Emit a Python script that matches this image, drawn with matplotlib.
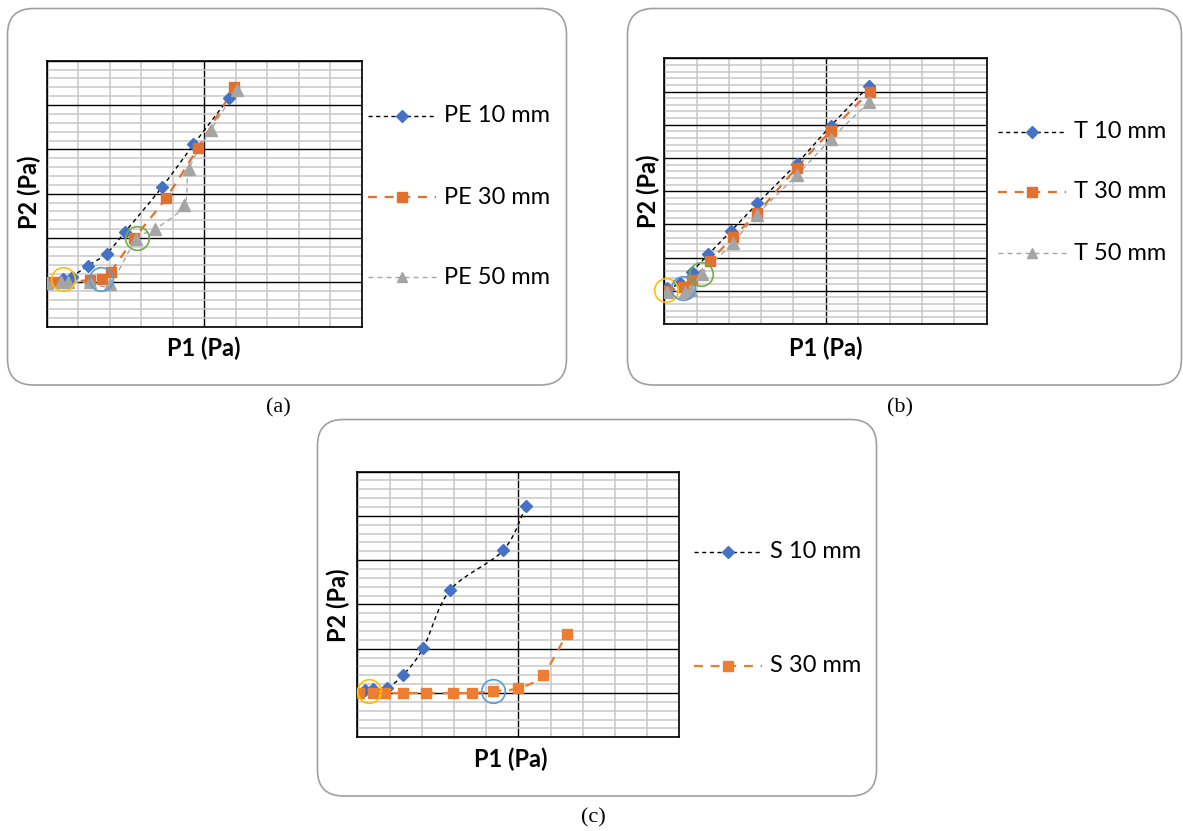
import numpy as np
import matplotlib.pyplot as plt
from matplotlib.patches import FancyBboxPatch
from matplotlib.lines import Line2D

# ---------------------------------------------------------------------------
# Daten (Achsen ohne Zahlen -> relative Einheiten)
# ---------------------------------------------------------------------------
pe10_x = [0.53, 0.79, 1.32, 1.90, 2.49, 3.65, 4.66, 5.79]
pe10_y = [0.07, 0.13, 0.38, 0.65, 1.14, 2.14, 3.11, 4.16]
pe30_x = [0.02, 0.32, 1.38, 1.75, 2.03, 2.78, 3.79, 4.81, 5.96]
pe30_y = [0.00, 0.00, 0.05, 0.08, 0.24, 0.99, 1.91, 3.04, 4.40]
pe50_x = [0.00, 0.44, 0.69, 1.38, 2.01, 2.84, 3.44, 4.36, 4.52, 5.21, 6.03]
pe50_y = [-0.02, 0.00, 0.00, 0.00, -0.03, 0.97, 1.20, 1.74, 2.56, 3.44, 4.34]

t10_x = [0.07, 0.49, 0.85, 1.37, 2.07, 2.89, 4.11, 5.16, 6.36]
t10_y = [0.07, 0.22, 0.57, 1.10, 1.80, 2.63, 3.83, 4.96, 6.18]
t30_x = [0.07, 0.59, 0.85, 1.42, 2.12, 2.89, 4.11, 5.16, 6.38]
t30_y = [0.00, 0.10, 0.32, 0.90, 1.61, 2.35, 3.71, 4.81, 6.00]
t50_x = [0.07, 0.64, 0.82, 1.16, 2.12, 2.86, 4.11, 5.16, 6.36]
t50_y = [-0.03, -0.03, 0.02, 0.52, 1.43, 2.28, 3.48, 4.56, 5.69]

s10_x = [0.24, 0.48, 0.91, 1.43, 2.05, 2.88, 4.53, 5.23]
s10_y = [0.06, 0.08, 0.11, 0.41, 1.02, 2.32, 3.22, 4.21]
s30_x = [0.06, 0.48, 0.86, 1.43, 2.13, 2.96, 3.55, 4.22, 5.00, 5.76, 6.50]
s30_y = [0.00, 0.00, 0.00, 0.00, 0.00, 0.00, 0.00, 0.04, 0.11, 0.41, 1.33]

# Markierungskreise (x, y, Farbe)
circles_a = [(0.51, 0.07, "#FFC000"), (1.72, 0.07, "#5B9BD5"), (2.86, 0.99, "#70AD47")]
circles_b = [(0.05, 0.02, "#FFC000"), (0.59, 0.07, "#5B9BD5"), (1.13, 0.52, "#70AD47")]
circles_c = [(0.37, 0.05, "#FFC000"), (4.22, 0.05, "#5B9BD5")]

labels_a = ["PE 10 mm", "PE 30 mm", "PE 50 mm"]
labels_b = ["T 10 mm", "T 30 mm", "T 50 mm"]
labels_c = ["S 10 mm", "S 30 mm"]

BLUE = "#4472C4"
ORANGE = "#E2702E"
ORANGE_C = "#ED7D31"
GRAY = "#A5A5A5"

W, H = 1183, 831
fig = plt.figure(figsize=(W / 100, H / 100), dpi=100)

# Hintergrund-Achse in Pixelkoordinaten fuer Rahmen, Legenden und Texte
bg = fig.add_axes([0, 0, 1, 1])
bg.set_xlim(0, W)
bg.set_ylim(H, 0)
bg.axis("off")

for (x0, y0, x1, y1) in [(7.5, 8.5, 566.5, 385), (627.5, 8.5, 1181.5, 385), (317.5, 419.5, 876.5, 796)]:
    bg.add_patch(FancyBboxPatch((x0, y0), x1 - x0, y1 - y0,
                                boxstyle="round,pad=0,rounding_size=26",
                                fc="white", ec="#a0a0a0", lw=1.2))

FONT = "Lato"
FS = 17


def smooth(xs, ys, n=20):
    # Catmull-Rom, damit die Linie wie in Excel "geglaettet" aussieht
    p = np.column_stack([xs, ys]).astype(float)
    p = np.vstack([p[0], p, p[-1]])
    out = []
    t = np.linspace(0, 1, n)[:, None]
    for i in range(1, len(p) - 2):
        p0, p1, p2, p3 = p[i - 1], p[i], p[i + 1], p[i + 2]
        seg = 0.5 * ((2 * p1) + (-p0 + p2) * t + (2 * p0 - 5 * p1 + 4 * p2 - p3) * t ** 2
                     + (-p0 + 3 * p1 - 3 * p2 + p3) * t ** 3)
        out.append(seg)
    out = np.vstack(out)
    return out[:, 0], out[:, 1]


def make_axes(left, top, right, bottom, ymin, ymax):
    ax = fig.add_axes([left / W, 1 - bottom / H, (right - left) / W, (bottom - top) / H])
    ax.set_xlim(0, 10)
    ax.set_ylim(ymin, ymax)
    ax.set_xticks(np.arange(0, 11, 5))
    ax.set_xticks(np.arange(0, 11, 1), minor=True)
    ax.set_yticks(np.arange(ymin, ymax + 0.01, 1))
    ax.set_yticks(np.arange(ymin, ymax + 0.01, 0.2), minor=True)
    ax.grid(which="minor", color="#c8c8c8", lw=1.1, zorder=0)
    ax.grid(which="major", color="black", lw=1.0, zorder=0)
    ax.set_axisbelow(True)
    ax.tick_params(which="both", length=0, labelbottom=False, labelleft=False)
    for s in ax.spines.values():
        s.set_color("black")
        s.set_linewidth(1.2)
    return ax


# Stil je Serie: (Linienfarbe, Strichmuster, Linienbreite, Marker, Markerfarbe, Markergroesse)
style_10 = ("black", (0, (3, 2.5)), 1.0, "D", BLUE, 6.5)
style_30 = (ORANGE, (0, (4, 3.5)), 1.6, "s", ORANGE, 7.5)
style_50 = (GRAY, (0, (3.5, 3)), 1.0, "^", GRAY, 8)
style_30c = (ORANGE_C, (0, (4, 3.5)), 1.6, "s", ORANGE_C, 7.5)


def draw_series(ax, xs, ys, st):
    lc, ls, lw, mk, mc, ms = st
    sx, sy = smooth(xs, ys)
    ax.plot(sx, sy, color=lc, linestyle=ls, lw=lw, zorder=3)
    ax.plot(xs, ys, linestyle="none", marker=mk, color=mc, ms=ms, mec=mc, zorder=4)


def draw_circles(ax, circ):
    for cx, cy, cc in circ:
        ax.plot(cx, cy, marker="o", ms=17, mfc="none", mec=cc, mew=1.2, zorder=5, clip_on=False)


def legend_entry(x_mid, y, st, label):
    lc, ls, lw, mk, mc, ms = st
    bg.add_line(Line2D([x_mid - 34, x_mid + 34], [y, y], color=lc, linestyle=ls, lw=lw))
    bg.add_line(Line2D([x_mid], [y], marker=mk, color=mc, ms=ms * 0.95, linestyle="none"))
    bg.text(x_mid + 42, y, label, fontsize=FS, family=FONT, va="center", ha="left")


# (a)
ax_a = make_axes(46.7, 60.7, 361.7, 326.7, -1, 5)
draw_series(ax_a, pe10_x, pe10_y, style_10)
draw_series(ax_a, pe30_x, pe30_y, style_30)
draw_series(ax_a, pe50_x, pe50_y, style_50)
draw_circles(ax_a, circles_a)
for yy, st, lab in zip([116, 197, 277], [style_10, style_30, style_50], labels_a):
    legend_entry(402, yy, st, lab)

# (b)
ax_b = make_axes(664.3, 58.3, 986.7, 324, -1, 7)
draw_series(ax_b, t10_x, t10_y, style_10)
draw_series(ax_b, t30_x, t30_y, style_30)
draw_series(ax_b, t50_x, t50_y, style_50)
draw_circles(ax_b, circles_b)
for yy, st, lab in zip([132, 192, 253], [style_10, style_30, style_50], labels_b):
    legend_entry(1032, yy, st, lab)

# (c)
ax_c = make_axes(357.3, 471.5, 679.3, 737.3, -1, 5)
draw_series(ax_c, s10_x, s10_y, style_10)
draw_series(ax_c, s30_x, s30_y, style_30c)
draw_circles(ax_c, circles_c)
for yy, st, lab in zip([552, 666], [style_10, style_30c], labels_c):
    legend_entry(728, yy, st, lab)

# Achsenbeschriftungen
for (px, py) in [(204, 348), (826, 348), (511, 759)]:
    bg.text(px, py, "P1 (Pa)", fontsize=FS, family=FONT, weight="bold", ha="center", va="center")
for (px, py) in [(29, 192), (648.5, 191), (338.5, 605)]:
    bg.text(px, py, "P2 (Pa)", fontsize=FS, family=FONT, weight="bold", ha="center", va="center",
            rotation=90)

# Teilbild-Bezeichnungen
for (px, py, lab) in [(278, 408, "(a)"), (900, 408, "(b)"), (593, 818, "(c)")]:
    bg.text(px, py, lab, fontsize=16, family="Liberation Serif", ha="center", va="center")

fig.savefig("out.png", dpi=100)
